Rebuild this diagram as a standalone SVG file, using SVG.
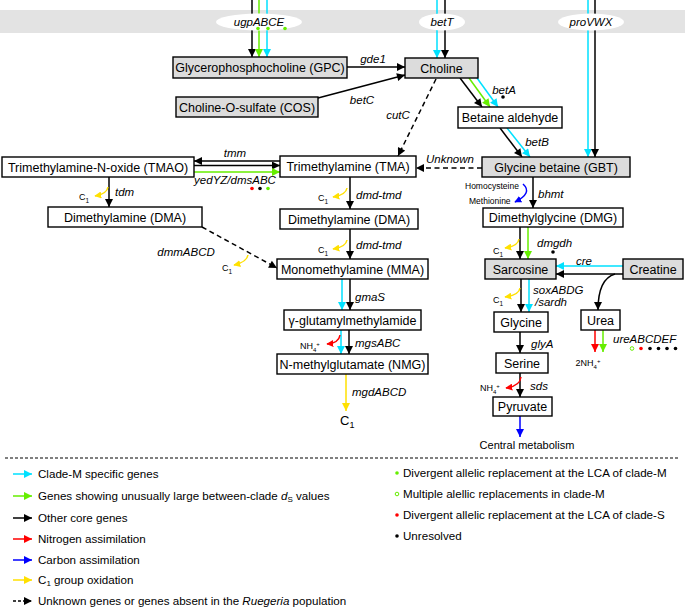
<svg xmlns="http://www.w3.org/2000/svg" width="685" height="608" viewBox="0 0 685 608">
<defs>
<style>
.n rect{stroke:#000;stroke-width:1.4}
.g rect{fill:#dcdcdc}
.w rect{fill:#fff}
text{font-family:"Liberation Sans",Arial,sans-serif;fill:#000}
.nt{font-size:12.5px;text-anchor:middle}
.gl{font-size:11.5px;font-style:italic}
.sm{font-size:9px}
.lg{font-size:11.6px}
.e{fill:none;stroke-width:1.5}
.k{stroke:#000}
.c{stroke:#00E1FF}
.v{stroke:#66EE00}
.y{stroke:#FFE000}
.r{stroke:#FF0000}
.b{stroke:#0000FF}
.d{stroke-dasharray:5,3.5}
</style>
<marker id="mk" viewBox="0 0 10 10" refX="10" refY="5" markerWidth="9" markerHeight="8" orient="auto" markerUnits="userSpaceOnUse"><path d="M0,0L10,5L0,10z" fill="#000"/></marker>
<marker id="mc" viewBox="0 0 10 10" refX="10" refY="5" markerWidth="9" markerHeight="8" orient="auto" markerUnits="userSpaceOnUse"><path d="M0,0L10,5L0,10z" fill="#00E1FF"/></marker>
<marker id="mv" viewBox="0 0 10 10" refX="10" refY="5" markerWidth="9" markerHeight="8" orient="auto" markerUnits="userSpaceOnUse"><path d="M0,0L10,5L0,10z" fill="#66EE00"/></marker>
<marker id="my" viewBox="0 0 10 10" refX="10" refY="5" markerWidth="9" markerHeight="8" orient="auto" markerUnits="userSpaceOnUse"><path d="M0,0L10,5L0,10z" fill="#FFE000"/></marker>
<marker id="mr" viewBox="0 0 10 10" refX="10" refY="5" markerWidth="9" markerHeight="8" orient="auto" markerUnits="userSpaceOnUse"><path d="M0,0L10,5L0,10z" fill="#FF0000"/></marker>
<marker id="mb" viewBox="0 0 10 10" refX="10" refY="5" markerWidth="9" markerHeight="8" orient="auto" markerUnits="userSpaceOnUse"><path d="M0,0L10,5L0,10z" fill="#0000FF"/></marker>
<marker id="sy" viewBox="0 0 10 10" refX="9" refY="5" markerWidth="7" markerHeight="7" orient="auto" markerUnits="userSpaceOnUse"><path d="M0,0L10,5L0,10z" fill="#FFE000"/></marker>
<marker id="sr" viewBox="0 0 10 10" refX="9" refY="5" markerWidth="7" markerHeight="7" orient="auto" markerUnits="userSpaceOnUse"><path d="M0,0L10,5L0,10z" fill="#FF0000"/></marker>
<marker id="sb" viewBox="0 0 10 10" refX="9" refY="5" markerWidth="7" markerHeight="7" orient="auto" markerUnits="userSpaceOnUse"><path d="M0,0L10,5L0,10z" fill="#0000FF"/></marker>
</defs>
<rect x="0" y="0" width="685" height="608" fill="#fff"/>
<rect id="membrane" x="0" y="10" width="685" height="23" fill="#e3e3e3"/>

<g id="connectors">
<line class="e k" x1="252" y1="0" x2="252" y2="57" marker-end="url(#mk)"/>
<line class="e v" x1="259" y1="0" x2="259" y2="57" marker-end="url(#mv)"/>
<line class="e c" x1="267" y1="0" x2="267" y2="57" marker-end="url(#mc)"/>
<line class="e c" x1="437" y1="0" x2="437" y2="58" marker-end="url(#mc)"/>
<line class="e k" x1="445" y1="0" x2="445" y2="58" marker-end="url(#mk)"/>
<line class="e c" x1="588" y1="0" x2="588" y2="157" marker-end="url(#mc)"/>
<line class="e k" x1="595" y1="0" x2="595" y2="157" marker-end="url(#mk)"/>
<line class="e k" x1="347" y1="67" x2="405" y2="67" marker-end="url(#mk)"/>
<line class="e k" x1="318" y1="98" x2="405" y2="75" marker-end="url(#mk)"/>
<line class="e k" x1="460" y1="78" x2="482" y2="107" marker-end="url(#mk)"/>
<line class="e v" x1="469" y1="78" x2="490" y2="107" marker-end="url(#mv)"/>
<line class="e c" x1="477" y1="78" x2="498" y2="107" marker-end="url(#mc)"/>
<line class="e k d" x1="436" y1="79" x2="398" y2="156" marker-end="url(#mk)"/>
<line class="e k" x1="500" y1="128" x2="522" y2="157" marker-end="url(#mk)"/>
<line class="e c" x1="507" y1="128" x2="530" y2="157" marker-end="url(#mc)"/>
<line class="e k d" x1="482" y1="168" x2="416" y2="168" marker-end="url(#mk)"/>
<line class="e k" x1="280" y1="161" x2="194" y2="161" marker-end="url(#mk)"/>
<line class="e k" x1="194" y1="165.5" x2="280" y2="165.5" marker-end="url(#mk)"/>
<line class="e v" x1="194" y1="172" x2="280" y2="172" marker-end="url(#mv)"/>
<line class="e k" x1="109" y1="177" x2="109" y2="207" marker-end="url(#mk)"/>
<path class="e y" d="M108,187 Q107,194 95,196" marker-end="url(#sy)"/>
<line class="e k d" x1="202" y1="227" x2="277" y2="268" marker-end="url(#mk)"/>
<path class="e y" d="M248,255 Q247,262 234,265" marker-end="url(#sy)"/>
<line class="e k" x1="350" y1="177" x2="350" y2="209" marker-end="url(#mk)"/>
<path class="e y" d="M347,188 Q346,195 333,197" marker-end="url(#sy)"/>
<line class="e k" x1="350" y1="229" x2="350" y2="259" marker-end="url(#mk)"/>
<path class="e y" d="M347,240 Q346,247 333,249" marker-end="url(#sy)"/>
<line class="e c" x1="342" y1="279" x2="342" y2="310" marker-end="url(#mc)"/>
<line class="e k" x1="350" y1="279" x2="350" y2="310" marker-end="url(#mk)"/>
<line class="e c" x1="341" y1="330" x2="341" y2="354" marker-end="url(#mc)"/>
<line class="e k" x1="349" y1="330" x2="349" y2="354" marker-end="url(#mk)"/>
<path class="e r" d="M340,335 Q339,343 327,344" marker-end="url(#sr)"/>
<line class="e y" x1="346" y1="374" x2="346" y2="411" marker-end="url(#my)"/>
<line class="e k" x1="533" y1="177" x2="533" y2="208" marker-end="url(#mk)"/>
<path class="e b" d="M523,184 Q533,193 515,202" marker-end="url(#sb)"/>
<line class="e k" x1="520" y1="227" x2="520" y2="259" marker-end="url(#mk)"/>
<line class="e v" x1="528" y1="227" x2="528" y2="259" marker-end="url(#mv)"/>
<path class="e y" d="M519,239 Q518,246 505,248" marker-end="url(#sy)"/>
<line class="e c" x1="623" y1="266" x2="556" y2="266" marker-end="url(#mc)"/>
<line class="e k" x1="623" y1="274" x2="556" y2="274" marker-end="url(#mk)"/>
<path class="e k" d="M615,274 Q598,279 598,310" marker-end="url(#mk)"/>
<line class="e k" x1="521" y1="279" x2="521" y2="312" marker-end="url(#mk)"/>
<line class="e c" x1="529" y1="279" x2="529" y2="312" marker-end="url(#mc)"/>
<path class="e y" d="M520,288 Q519,295 505,297" marker-end="url(#sy)"/>
<line class="e k" x1="520" y1="332" x2="520" y2="353" marker-end="url(#mk)"/>
<line class="e k" x1="520" y1="373" x2="520" y2="397" marker-end="url(#mk)"/>
<path class="e r" d="M521,377 Q520,386 506,388" marker-end="url(#sr)"/>
<line class="e b" x1="520" y1="416" x2="520" y2="437" marker-end="url(#mb)"/>
<line class="e r" x1="595" y1="330" x2="595" y2="352" marker-end="url(#mr)"/>
<line class="e v" x1="603" y1="330" x2="603" y2="352" marker-end="url(#mv)"/>
</g>

<g id="ugpABCE"><ellipse cx="259" cy="22" rx="43" ry="8.5" fill="#fff"/><text class="gl" x="259" y="26" text-anchor="middle" font-size="12">ugpABCE</text>
<circle cx="258" cy="28.5" r="1.8" fill="#66EE00"/><circle cx="268" cy="28.5" r="1.8" fill="#66EE00"/><circle cx="285" cy="28.5" r="1.8" fill="#66EE00"/></g>
<g id="betT"><ellipse cx="442" cy="22" rx="23" ry="8.5" fill="#fff"/><text class="gl" x="442" y="26" text-anchor="middle" font-size="12">betT</text></g>
<g id="proVWX"><ellipse cx="591" cy="22" rx="33" ry="8.5" fill="#fff"/><text class="gl" x="591" y="26" text-anchor="middle" font-size="12">proVWX</text></g>

<g id="GPC" class="n g"><rect x="173" y="57" width="174" height="21"/><text class="nt" x="260" y="72">Glycerophosphocholine (GPC)</text></g>
<g id="COS" class="n g"><rect x="176" y="97" width="142" height="20"/><text class="nt" x="247" y="112">Choline-O-sulfate (COS)</text></g>
<g id="Choline" class="n g"><rect x="405" y="58" width="73" height="20"/><text class="nt" x="441.5" y="72.5">Choline</text></g>
<g id="BetaineAldehyde" class="n w"><rect x="458" y="107" width="104" height="21"/><text class="nt" x="510" y="122">Betaine aldehyde</text></g>
<g id="GBT" class="n g"><rect x="482" y="157" width="148" height="20"/><text class="nt" x="556" y="171.5">Glycine betaine (GBT)</text></g>
<g id="TMA" class="n w"><rect x="280" y="156" width="136" height="21"/><text class="nt" x="348" y="171">Trimethylamine (TMA)</text></g>
<g id="TMAO" class="n w"><rect x="2" y="157" width="192" height="20"/><text class="nt" x="98" y="171.5">Trimethylamine-N-oxide (TMAO)</text></g>
<g id="DMA1" class="n w"><rect x="48" y="207" width="154" height="20"/><text class="nt" x="125" y="221.5">Dimethylamine (DMA)</text></g>
<g id="DMA2" class="n w"><rect x="280" y="209" width="138" height="20"/><text class="nt" x="349" y="223.5">Dimethylamine (DMA)</text></g>
<g id="MMA" class="n w"><rect x="277" y="259" width="151" height="20"/><text class="nt" x="352.5" y="273.5">Monomethylamine (MMA)</text></g>
<g id="GMA" class="n w"><rect x="284" y="310" width="137" height="20"/><text class="nt" x="352.5" y="324.5">γ-glutamylmethylamide</text></g>
<g id="NMG" class="n w"><rect x="277" y="354" width="151" height="20"/><text class="nt" x="352.5" y="368.5">N-methylglutamate (NMG)</text></g>
<g id="DMG" class="n w"><rect x="483" y="208" width="140" height="19"/><text class="nt" x="553" y="222">Dimethylglycine (DMG)</text></g>
<g id="Sarcosine" class="n g"><rect x="485" y="259" width="71" height="20"/><text class="nt" x="520.5" y="273.5">Sarcosine</text></g>
<g id="Creatine" class="n g"><rect x="623" y="259" width="60" height="20"/><text class="nt" x="653" y="273.5">Creatine</text></g>
<g id="Glycine" class="n w"><rect x="494" y="312" width="54" height="20"/><text class="nt" x="521" y="326.5">Glycine</text></g>
<g id="Urea" class="n w"><rect x="581" y="310" width="39" height="20"/><text class="nt" x="600.5" y="324.5">Urea</text></g>
<g id="Serine" class="n w"><rect x="496" y="353" width="52" height="20"/><text class="nt" x="522" y="367.5">Serine</text></g>
<g id="Pyruvate" class="n w"><rect x="493" y="397" width="59" height="19"/><text class="nt" x="522.5" y="411">Pyruvate</text></g>

<g id="labels">
<text class="gl" x="373" y="63" text-anchor="middle">gde1</text>
<text class="gl" x="362" y="104" text-anchor="middle">betC</text>
<text class="gl" x="398" y="119" text-anchor="middle">cutC</text>
<text class="gl" x="504" y="94" text-anchor="middle">betA</text>
<circle cx="503" cy="97" r="1.8" fill="#000"/>
<text class="gl" x="537" y="146" text-anchor="middle">betB</text>
<text class="gl" x="450" y="163" text-anchor="middle">Unknown</text>
<text class="gl" x="235" y="157" text-anchor="middle">tmm</text>
<text class="gl" x="235" y="184" text-anchor="middle">yedYZ/dmsABC</text>
<circle cx="252" cy="188.5" r="1.8" fill="#FF0000"/><circle cx="260" cy="188.5" r="1.8" fill="#000"/><circle cx="268" cy="188.5" r="1.8" fill="#66EE00"/>
<text class="gl" x="115" y="196">tdm</text>
<text class="sm" x="79" y="200">C<tspan font-size="6.5" dy="2.5">1</tspan></text>
<text class="gl" x="186" y="256" text-anchor="middle">dmmABCD</text>
<text class="sm" x="222" y="271">C<tspan font-size="6.5" dy="2.5">1</tspan></text>
<text class="gl" x="356" y="199">dmd-tmd</text>
<text class="sm" x="318" y="201">C<tspan font-size="6.5" dy="2.5">1</tspan></text>
<text class="gl" x="356" y="249">dmd-tmd</text>
<text class="sm" x="318" y="253">C<tspan font-size="6.5" dy="2.5">1</tspan></text>
<text class="gl" x="355" y="301">gmaS</text>
<text class="gl" x="355" y="347">mgsABC</text>
<text class="sm" x="300" y="349">NH<tspan font-size="6" dy="2.5">4</tspan><tspan font-size="6" dy="-6">+</tspan></text>
<text class="gl" x="352" y="396">mgdABCD</text>
<text x="340" y="425" font-size="13">C<tspan font-size="9" dy="3">1</tspan></text>
<text class="gl" x="538" y="198">bhmt</text>
<text x="465" y="189" font-size="8.5">Homocysteine</text>
<text x="469" y="204" font-size="8.5">Methionine</text>
<text class="gl" x="537" y="247">dmgdh</text>
<circle cx="553" cy="252" r="1.8" fill="#000"/>
<text class="sm" x="493" y="254">C<tspan font-size="6.5" dy="2.5">1</tspan></text>
<text class="gl" x="584" y="265" text-anchor="middle">cre</text>
<text class="gl" x="533" y="294">soxABDG</text>
<text class="gl" x="535" y="306">/sardh</text>
<text class="sm" x="493" y="303">C<tspan font-size="6.5" dy="2.5">1</tspan></text>
<text class="gl" x="531" y="348">glyA</text>
<text class="gl" x="530" y="390">sds</text>
<text class="sm" x="480" y="391">NH<tspan font-size="6" dy="2.5">4</tspan><tspan font-size="6" dy="-6">+</tspan></text>
<text x="527" y="449" font-size="11" text-anchor="middle">Central metabolism</text>
<text class="sm" x="588" y="366" text-anchor="middle">2NH<tspan font-size="6" dy="2.5">4</tspan><tspan font-size="6" dy="-6">+</tspan></text>
<text class="gl" x="613" y="343" font-size="12.5">ureABCDEF</text>
<circle cx="632" cy="348.5" r="1.8" fill="none" stroke="#66EE00" stroke-width="1"/>
<circle cx="641" cy="348.5" r="1.8" fill="#FF0000"/>
<circle cx="650" cy="348.5" r="1.8" fill="#000"/><circle cx="658.5" cy="348.5" r="1.8" fill="#000"/><circle cx="667" cy="348.5" r="1.8" fill="#000"/><circle cx="675.5" cy="348.5" r="1.8" fill="#000"/>
</g>

<line x1="5" y1="458" x2="680" y2="458" stroke="#000" stroke-width="1" stroke-dasharray="3,2"/>

<g id="legend">
<line class="e c" x1="13" y1="474" x2="32" y2="474" marker-end="url(#mc)"/>
<text class="lg" x="38" y="478">Clade-M specific genes</text>
<line class="e v" x1="13" y1="496" x2="32" y2="496" marker-end="url(#mv)"/>
<text class="lg" x="38" y="500">Genes showing unusually large between-clade <tspan font-style="italic">d</tspan><tspan font-size="8" dy="2">S</tspan><tspan dy="-2"> values</tspan></text>
<line class="e k" x1="13" y1="518" x2="32" y2="518" marker-end="url(#mk)"/>
<text class="lg" x="38" y="522">Other core genes</text>
<line class="e r" x1="13" y1="539" x2="32" y2="539" marker-end="url(#mr)"/>
<text class="lg" x="38" y="543">Nitrogen assimilation</text>
<line class="e b" x1="13" y1="560" x2="32" y2="560" marker-end="url(#mb)"/>
<text class="lg" x="38" y="564">Carbon assimilation</text>
<line class="e y" x1="13" y1="580" x2="32" y2="580" marker-end="url(#my)"/>
<text class="lg" x="38" y="584">C<tspan font-size="8" dy="2">1</tspan><tspan dy="-2"> group oxidation</tspan></text>
<line class="e k" x1="13" y1="601" x2="32" y2="601" stroke-dasharray="3,2" marker-end="url(#mk)"/>
<text class="lg" x="38" y="605">Unknown genes or genes absent in the <tspan font-style="italic">Ruegeria</tspan> population</text>
<circle cx="397" cy="473" r="1.8" fill="#66EE00"/>
<text class="lg" x="403" y="477">Divergent allelic replacement at the LCA of clade-M</text>
<circle cx="397" cy="494" r="1.8" fill="none" stroke="#66EE00" stroke-width="1"/>
<text class="lg" x="403" y="498">Multiple alellic replacements in clade-M</text>
<circle cx="397" cy="515" r="1.8" fill="#FF0000"/>
<text class="lg" x="403" y="519">Divergent allelic replacement at the LCA of clade-S</text>
<circle cx="397" cy="536" r="1.8" fill="#000"/>
<text class="lg" x="403" y="540">Unresolved</text>
</g>
</svg>
